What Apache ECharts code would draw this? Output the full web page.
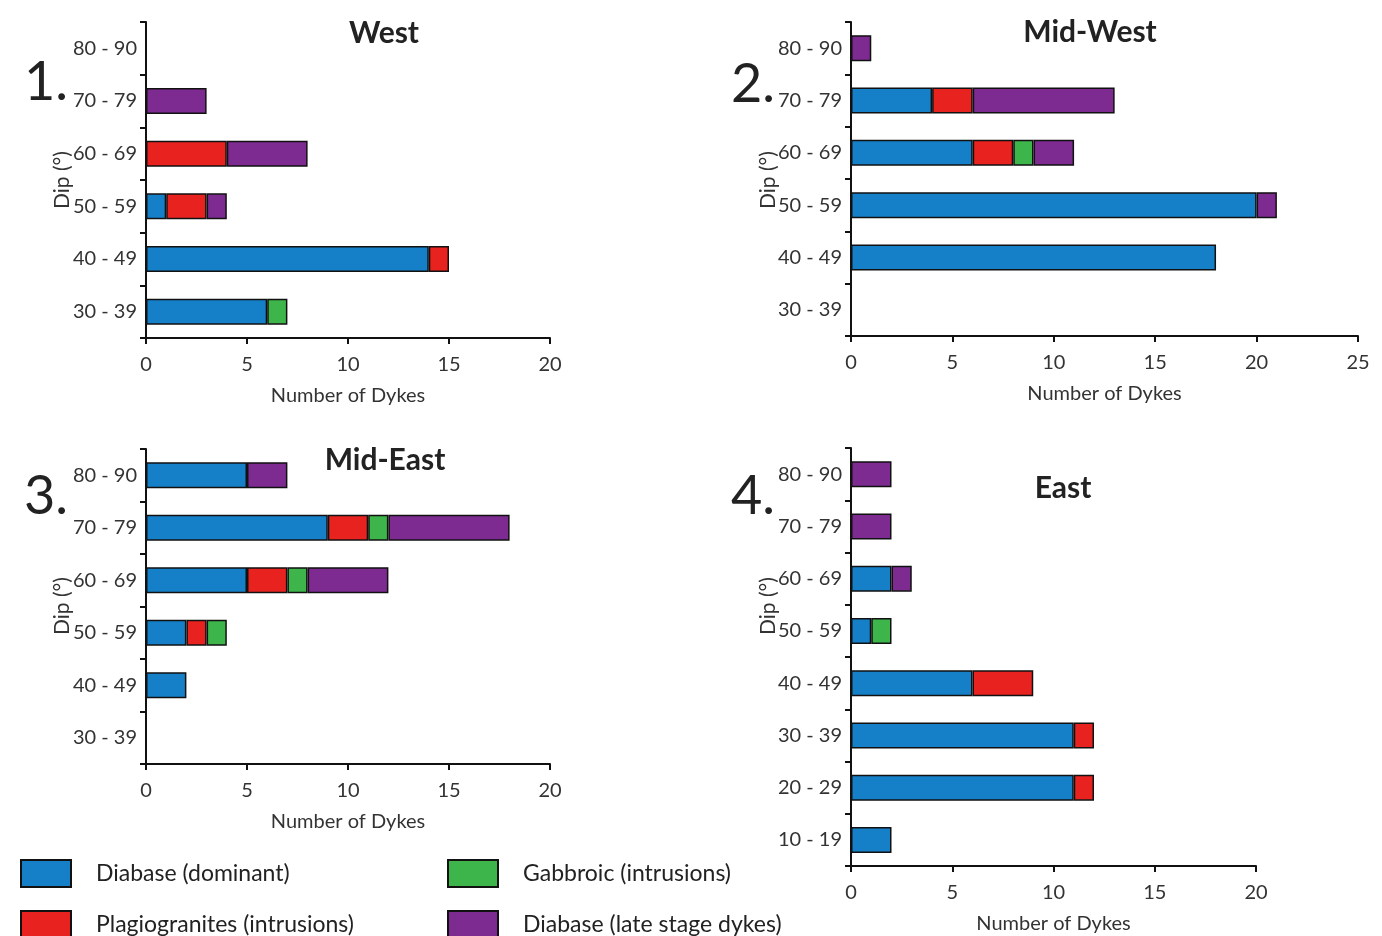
<!DOCTYPE html>
<html>
<head>
<meta charset="utf-8">
<script src="https://cdn.jsdelivr.net/npm/echarts@6/dist/echarts.min.js"></script>
<style>
html,body{margin:0;padding:0;background:#fff;}
#chart{width:1382px;height:936px;}
</style>
</head>
<body>
<div id="chart"></div>
<script>
// ---- data ----
const dipCategories = ['30 - 39', '40 - 49', '50 - 59', '60 - 69', '70 - 79', '80 - 90'];
const dipCategoriesEast = ['10 - 19', '20 - 29', '30 - 39', '40 - 49', '50 - 59', '60 - 69', '70 - 79', '80 - 90'];

const seriesNames = ['Diabase (dominant)', 'Plagiogranites (intrusions)', 'Gabbroic (intrusions)', 'Diabase (late stage dykes)'];
const panelTitles = ['West', 'Mid-West', 'Mid-East', 'East'];
const panelNumbers = ['1.', '2.', '3.', '4.'];

const westDiabase = [6, 14, 1, 0, 0, 0];
const westPlagio  = [0, 1, 2, 4, 0, 0];
const westGabbro  = [1, 0, 0, 0, 0, 0];
const westLate    = [0, 0, 1, 4, 3, 0];

const midWestDiabase = [0, 18, 20, 6, 4, 0];
const midWestPlagio  = [0, 0, 0, 2, 2, 0];
const midWestGabbro  = [0, 0, 0, 1, 0, 0];
const midWestLate    = [0, 0, 1, 2, 7, 1];

const midEastDiabase = [0, 2, 2, 5, 9, 5];
const midEastPlagio  = [0, 0, 1, 2, 2, 0];
const midEastGabbro  = [0, 0, 1, 1, 1, 0];
const midEastLate    = [0, 0, 0, 4, 6, 2];

const eastDiabase = [2, 11, 11, 6, 1, 2, 0, 0];
const eastPlagio  = [0, 1, 1, 3, 0, 0, 0, 0];
const eastGabbro  = [0, 0, 0, 0, 1, 0, 0, 0];
const eastLate    = [0, 0, 0, 0, 0, 1, 2, 2];

// ---- styling ----
const colors = ['#1580c8', '#e8231f', '#3db54a', '#7d2b91'];
const FONT = 'Lato';
const TXT = '#333';

const panels = [
  { cats: dipCategories, max: 20, data: [westDiabase, westPlagio, westGabbro, westLate],
    grid: { left: 146, top: 22, width: 404, height: 316 } },
  { cats: dipCategories, max: 25, data: [midWestDiabase, midWestPlagio, midWestGabbro, midWestLate],
    grid: { left: 851, top: 22, width: 507, height: 314 } },
  { cats: dipCategories, max: 20, data: [midEastDiabase, midEastPlagio, midEastGabbro, midEastLate],
    grid: { left: 146, top: 449, width: 404, height: 315 } },
  { cats: dipCategoriesEast, max: 20, data: [eastDiabase, eastPlagio, eastGabbro, eastLate],
    grid: { left: 851, top: 448, width: 405, height: 418 } }
];

const axisLineStyle = { color: '#111', width: 2 };

const grids = [], xAxes = [], yAxes = [], series = [];
panels.forEach((p, i) => {
  grids.push(Object.assign({ containLabel: false }, p.grid));
  xAxes.push({
    type: 'value', gridIndex: i, min: 0, max: p.max, interval: 5,
    name: 'Number of Dykes', nameLocation: 'middle', nameGap: 48,
    nameTextStyle: { fontFamily: FONT, fontSize: 20, color: TXT },
    axisLine: { show: true, lineStyle: axisLineStyle },
    axisTick: { show: true, length: 6, lineStyle: axisLineStyle },
    axisLabel: { fontFamily: FONT, fontSize: 20, color: TXT, margin: 17 },
    splitLine: { show: false }
  });
  yAxes.push({
    type: 'category', gridIndex: i, data: p.cats,
    axisLine: { show: true, lineStyle: axisLineStyle },
    axisTick: { show: true, length: 6, lineStyle: axisLineStyle },
    axisLabel: { fontFamily: FONT, fontSize: 20, color: TXT, margin: 9 },
    splitLine: { show: false }
  });
  p.data.forEach((arr, k) => {
    series.push({
      type: 'bar', name: seriesNames[k], stack: 'panel' + i,
      xAxisIndex: i, yAxisIndex: i, barWidth: 26,
      itemStyle: { color: colors[k], borderColor: '#111', borderWidth: 1.5 },
      data: arr.map(v => (v === 0 ? '-' : v)),
      silent: true
    });
  });
});

const titlePos = [[384, 33], [1090, 32], [385, 460], [1063, 488]];
const numberPos = [[46, 83], [753, 85], [46, 497], [753, 497]];
const dipPos = [[62, 180], [768, 180], [62, 606], [768, 606]];

const graphics = [];
panelTitles.forEach((t, i) => {
  graphics.push({ type: 'text', x: titlePos[i][0], y: titlePos[i][1],
    style: { text: t, fontFamily: FONT, fontWeight: 'bold', fontSize: 30, fill: '#222', align: 'center', verticalAlign: 'middle' } });
  graphics.push({ type: 'text', x: numberPos[i][0], y: numberPos[i][1],
    style: { text: panelNumbers[i], fontFamily: FONT, fontWeight: 'normal', fontSize: 54, fill: '#222', align: 'center', verticalAlign: 'middle' } });
  graphics.push({ type: 'text', x: dipPos[i][0], y: dipPos[i][1], rotation: Math.PI / 2,
    style: { text: 'Dip (°)', fontFamily: FONT, fontSize: 21, fill: TXT, align: 'center', verticalAlign: 'middle' } });
});

const legendPos = [[20, 859], [20, 910], [447, 859], [447, 910]];
const legends = seriesNames.map((n, k) => ({
  left: legendPos[k][0], top: legendPos[k][1], padding: 0,
  data: [n], itemWidth: 50, itemHeight: 27,
  icon: 'rect', selectedMode: false,
  textStyle: { fontFamily: FONT, fontSize: 23, color: '#222', padding: [0, 0, 0, 20] }
}));

const option = {
  backgroundColor: '#fff',
  animation: false,
  grid: grids,
  xAxis: xAxes,
  yAxis: yAxes,
  series: series,
  legend: legends,
  graphic: graphics
};

const chart = echarts.init(document.getElementById('chart'), null, { renderer: 'canvas' });
chart.setOption(option);
</script>
</body>
</html>
